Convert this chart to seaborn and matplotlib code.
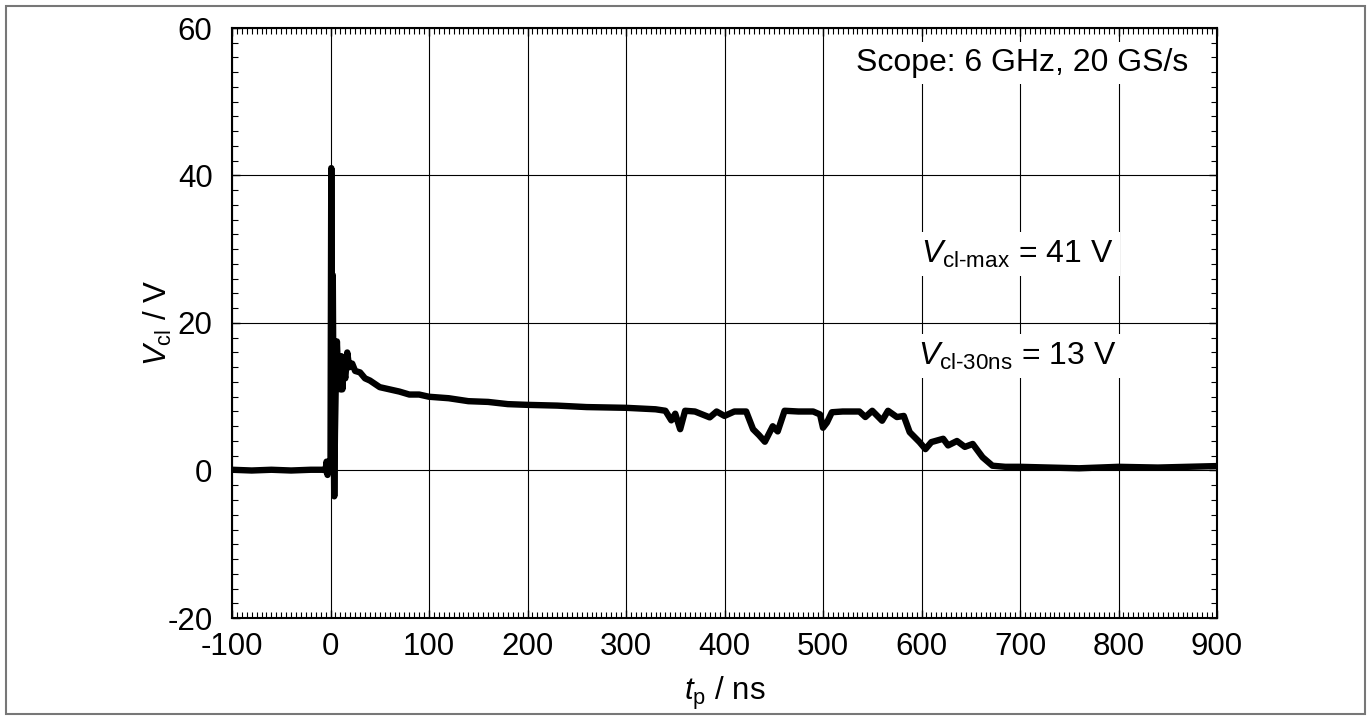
import matplotlib
matplotlib.use("Agg")
import matplotlib.pyplot as plt
from matplotlib.patches import Rectangle
from matplotlib.ticker import MultipleLocator
import seaborn as sns
import pandas as pd

# clamp voltage waveform
t_ns = [-100, -80, -60, -40, -20, -8, -5, -4, -3, -2, -1, 0,
        0.8, 1.6, 2.3, 3.0, 3.8, 4.5, 5.5, 6.5, 8, 9, 10, 11, 12, 13, 15, 17, 19,
        22, 25, 30, 35, 40, 50, 60, 70, 80, 90, 100, 120, 140, 160, 180, 200,
        230, 260, 300, 330, 340, 346, 350, 355, 360, 370, 385, 392, 400, 410, 422,
        429, 435, 441, 449, 454, 461, 475, 490, 497, 500, 504, 509, 520, 537, 543,
        550, 560, 566, 575, 582, 588, 598, 604, 610, 622, 627, 636, 644, 652, 662,
        672, 685, 700, 730, 760, 800, 840, 870, 900]
v_cl = [0.1, 0.0, 0.1, 0.0, 0.1, 0.1, 0.0, 1.2, -0.6, 0.8, 0.0, 0.5,
        41.0, 5.0, 26.5, 10.0, -3.5, 5.0, 13.0, 17.5, 12.0, 15.0, 11.0, 15.5, 11.0, 14.0, 12.5, 16.0, 14.0,
        14.5, 13.5, 13.3, 12.5, 12.2, 11.3, 11.0, 10.7, 10.3, 10.3, 10.0, 9.8, 9.4, 9.3, 9.0, 8.9,
        8.8, 8.6, 8.5, 8.3, 8.1, 6.8, 7.7, 5.6, 8.1, 8.0, 7.2, 8.0, 7.4, 8.0, 8.0,
        5.6, 4.8, 3.9, 6.0, 5.3, 8.1, 8.0, 8.0, 7.6, 5.8, 6.5, 7.9, 8.0, 8.0, 7.25,
        8.1, 6.75, 8.1, 7.25, 7.4, 5.2, 3.85, 2.9, 3.85, 4.3, 3.4, 4.0, 3.2, 3.6, 1.8,
        0.65, 0.5, 0.5, 0.4, 0.3, 0.5, 0.4, 0.5, 0.6]

x_ticks = [-100, 0, 100, 200, 300, 400, 500, 600, 700, 800, 900]
y_ticks = [-20, 0, 20, 40, 60]

df = pd.DataFrame({"t": t_ns, "v": v_cl})

sns.set_style("ticks")
plt.rcParams["font.family"] = ["Liberation Sans", "DejaVu Sans"]
plt.rcParams["mathtext.fontset"] = "custom"
plt.rcParams["mathtext.rm"] = "Liberation Sans"
plt.rcParams["mathtext.it"] = "Liberation Sans:italic"
plt.rcParams["axes.unicode_minus"] = False
plt.rcParams["text.color"] = "black"
plt.rcParams["axes.labelcolor"] = "black"
plt.rcParams["xtick.color"] = "black"
plt.rcParams["ytick.color"] = "black"

fig = plt.figure(figsize=(13.71, 7.2), dpi=100)
ax = fig.add_axes([232 / 1371, 1 - 618 / 720, 985 / 1371, 590 / 720])

sns.lineplot(data=df, x="t", y="v", ax=ax, color="black", linewidth=4.6,
             estimator=None, sort=False, zorder=3)

ax.set_xlim(-100, 900)
ax.set_ylim(-20, 60)
ax.set_xticks(x_ticks)
ax.set_yticks(y_ticks)
ax.xaxis.set_minor_locator(MultipleLocator(5))
ax.yaxis.set_minor_locator(MultipleLocator(2))
ax.grid(True, which="major", color="black", linewidth=0.8)
ax.tick_params(which="both", direction="in", top=True, right=True,
               labelsize=22.5)
ax.tick_params(axis="x", which="both", pad=10)
ax.tick_params(axis="y", which="both", pad=14)
ax.tick_params(which="major", length=6, width=1)
ax.tick_params(which="minor", length=4, width=0.8)
for s in ax.spines.values():
    s.set_linewidth(1.5)
    s.set_color("black")

ax.set_xlabel(r"$\mathit{t}_{\mathrm{p}}$ / ns", fontsize=22.5, labelpad=9)
ax.set_ylabel(r"$\mathit{V}_{\mathrm{cl}}$ / V", fontsize=22.5, labelpad=-5)

box = dict(boxstyle="square,pad=0.2", facecolor="white", edgecolor="none")
ax.text(0.9706, 0.9407, "Scope: 6 GHz, 20 GS/s", transform=ax.transAxes,
        ha="right", va="center", fontsize=23, bbox=box, zorder=4)
ax.text(697, 29.3, r"$\mathit{V}_{\mathrm{cl\text{-}max}}$ = 41 V",
        ha="center", va="center", fontsize=23, bbox=box, zorder=4)
ax.text(697, 15.5, r"$\mathit{V}_{\mathrm{cl\text{-}30ns}}$ = 13 V",
        ha="center", va="center", fontsize=23, bbox=box, zorder=4)

# grey frame around the whole figure
fig.patches.append(Rectangle((6 / 1371, 6 / 720), 1359 / 1371, 708 / 720,
                             transform=fig.transFigure, fill=False,
                             edgecolor="#777777", linewidth=1.5))

fig.savefig("out.png", dpi=100)
